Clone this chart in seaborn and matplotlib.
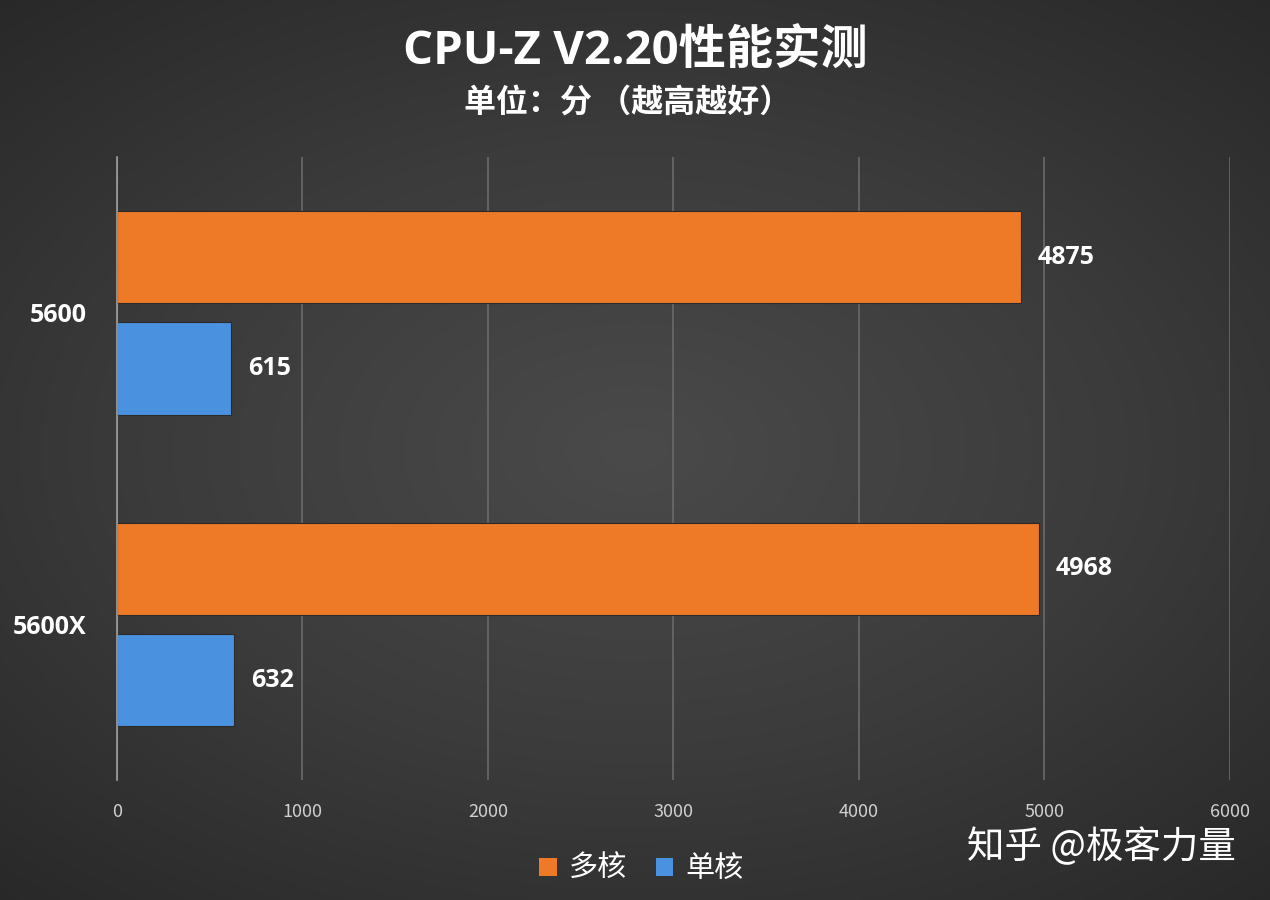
import numpy as np
import pandas as pd
import matplotlib
matplotlib.use("Agg")
import matplotlib.pyplot as plt
import seaborn as sns
from matplotlib.patches import Patch

# 数据
cpus = ['5600', '5600X']
multi_core = [4875, 4968]
single_core = [615, 632]
series = ['多核', '单核']
colors = ['#EE7A28', '#4A92E0']
x_ticks = [0, 1000, 2000, 3000, 4000, 5000, 6000]

df = pd.DataFrame({
    'cpu': cpus * 2,
    'score': multi_core + single_core,
    'type': [series[0]] * len(cpus) + [series[1]] * len(cpus),
})

sns.set_theme(style='dark')
plt.rcParams['font.family'] = ['Noto Sans CJK SC', 'DejaVu Sans']
num_font = ['Open Sans', 'Noto Sans CJK SC']

fig = plt.figure(figsize=(12.7, 9), dpi=100)

# 背景渐变
bg = fig.add_axes([0, 0, 1, 1], zorder=-10)
yy, xx = np.mgrid[-1:1:300j, -1:1:420j]
r = np.sqrt((xx * 0.9) ** 2 + (yy * 1.0) ** 2)
bg.imshow(r, cmap=matplotlib.colors.LinearSegmentedColormap.from_list('bg', ['#4a4a4a', '#3b3b3b', '#272727']),
          aspect='auto', extent=[0, 1, 0, 1], vmin=0, vmax=1.4)
bg.axis('off')

ax = fig.add_axes([0.0921, 0.1330, 0.8764, 0.6924])
ax.set_facecolor('none')

sns.barplot(data=df, y='cpu', x='score', hue='type', orient='h',
            palette=colors, saturation=1, width=0.713, gap=0.171,
            legend=False, ax=ax, edgecolor='#2a2a2a', linewidth=0.8, zorder=3)

ax.set_xlim(0, 6000)
ax.set_ylim(1.5, -0.5)
ax.set_xticks(x_ticks)
ax.set_xticklabels([str(t) for t in x_ticks], color='#cfcfcf', fontsize=13)
ax.tick_params(axis='x', length=0, pad=16)
ax.tick_params(axis='y', length=0, pad=22)
for lab in ax.get_yticklabels():
    lab.set_color('white')
    lab.set_fontsize(18)
    lab.set_fontweight('bold')
    lab.set_family(num_font)
ax.set_xlabel('')
ax.set_ylabel('')
ax.grid(axis='x', color='#6a6a6a', linewidth=1.2, zorder=0)
ax.grid(axis='y', visible=False)
for s in ['top', 'right', 'bottom']:
    ax.spines[s].set_visible(False)
ax.spines['left'].set_color('#a0a0a0')
ax.spines['left'].set_linewidth(1.2)
ax.spines['left'].set_zorder(5)

# 数值标签
for cont in ax.containers:
    ax.bar_label(cont, fmt='%d', padding=12, color='white', fontsize=18,
                 fontweight='bold', family=num_font)

fig.text(0.5, 0.943, 'CPU-Z V2.20性能实测', ha='center', va='center',
         color='white', fontsize=34, fontweight='bold', family=num_font)
fig.text(0.494, 0.886, '单位：分 （越高越好）', ha='center', va='center',
         color='white', fontsize=23, fontweight='bold')

handles = [Patch(facecolor=c, edgecolor='none', label=l) for c, l in zip(colors, series)]
leg = fig.legend(handles=handles, loc='center', bbox_to_anchor=(0.505, 0.034),
                 ncol=2, frameon=False, fontsize=21, handlelength=0.6,
                 handleheight=0.6, handletextpad=0.4, columnspacing=1.0)
for t in leg.get_texts():
    t.set_color('white')

fig.text(0.973, 0.058, '知乎 @极客力量', ha='right', va='center',
         color='white', fontsize=27)

fig.savefig('out.png', dpi=100)
